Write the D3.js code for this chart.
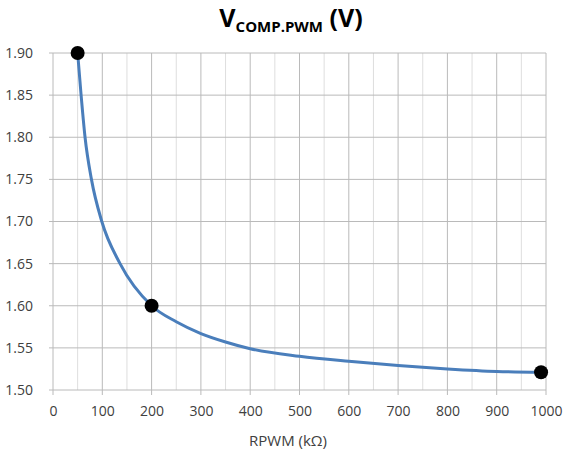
<!DOCTYPE html>
<html>
<head>
<meta charset="utf-8">
<script src="https://cdn.jsdelivr.net/npm/d3@7"></script>
<style>
  body { margin: 0; background: #fff; }
  text { font-family: "Open Sans", "DejaVu Sans", sans-serif; fill: #404040; }
</style>
</head>
<body>
<div id="chart"></div>
<script>
// curve values
var rpwm  = [50, 57, 65, 78, 99, 136, 200, 250, 300, 350, 400, 500, 600, 700, 800, 900, 990];
var vcomp = [1.90, 1.85, 1.80, 1.75, 1.70, 1.65, 1.60, 1.581, 1.567, 1.557, 1.549, 1.540, 1.534, 1.529, 1.525, 1.522, 1.521];

// marked points
var markX = [50, 200, 990];
var markY = [1.90, 1.60, 1.521];

var xTicks = [0, 100, 200, 300, 400, 500, 600, 700, 800, 900, 1000];
var xMinor = [50, 150, 250, 350, 450, 550, 650, 750, 850, 950];
var yTicks = [1.50, 1.55, 1.60, 1.65, 1.70, 1.75, 1.80, 1.85, 1.90];

var width = 563, height = 454;
var margin = { top: 53, right: 17, bottom: 64, left: 53 };
var w = width - margin.left - margin.right;
var h = height - margin.top - margin.bottom;

var svg = d3.select("#chart").append("svg")
  .attr("width", width)
  .attr("height", height);

var g = svg.append("g")
  .attr("transform", "translate(" + margin.left + "," + margin.top + ")");

var x = d3.scaleLinear().domain([0, 1000]).range([0, w]);
var y = d3.scaleLinear().domain([1.50, 1.90]).range([h, 0]);

// minor vertical grid
g.selectAll(".minor").data(xMinor).enter().append("line")
  .attr("class", "minor")
  .attr("x1", function(d){ return x(d); })
  .attr("x2", function(d){ return x(d); })
  .attr("y1", 0).attr("y2", h)
  .attr("stroke", "#dedede").attr("stroke-width", 1);

// major vertical grid
g.selectAll(".vmajor").data(xTicks).enter().append("line")
  .attr("class", "vmajor")
  .attr("x1", function(d){ return x(d); })
  .attr("x2", function(d){ return x(d); })
  .attr("y1", 0).attr("y2", h + 5)
  .attr("stroke", "#bababa").attr("stroke-width", 1);

// horizontal grid
g.selectAll(".hmajor").data(yTicks).enter().append("line")
  .attr("class", "hmajor")
  .attr("x1", -4).attr("x2", w)
  .attr("y1", function(d){ return y(d); })
  .attr("y2", function(d){ return y(d); })
  .attr("stroke", "#bababa").attr("stroke-width", 1);

// axes labels
var xAxis = d3.axisBottom(x).tickValues(xTicks).tickSize(0).tickPadding(16)
  .tickFormat(d3.format("d"));
var yAxis = d3.axisLeft(y).tickValues(yTicks).tickSize(0).tickPadding(20)
  .tickFormat(d3.format(".2f"));

g.append("g").attr("class", "x-axis")
  .attr("transform", "translate(0," + h + ")")
  .call(xAxis);
g.append("g").attr("class", "y-axis").call(yAxis);

g.selectAll(".x-axis path, .y-axis path").remove();
g.selectAll(".x-axis text, .y-axis text")
  .style("font-size", "14px").attr("fill", "#333");

// curve
var line = d3.line()
  .x(function(d, i){ return x(rpwm[i]); })
  .y(function(d){ return y(d); })
  .curve(d3.curveMonotoneX);

g.append("path")
  .datum(vcomp)
  .attr("d", line)
  .attr("fill", "none")
  .attr("stroke", "#4a7ebb")
  .attr("stroke-width", 3);

// dots
g.selectAll(".dot").data(markY).enter().append("circle")
  .attr("class", "dot")
  .attr("cx", function(d, i){ return x(markX[i]); })
  .attr("cy", function(d){ return y(d); })
  .attr("r", 7)
  .attr("fill", "#000");

// title
var title = svg.append("text")
  .attr("x", 291).attr("y", 27)
  .attr("text-anchor", "middle")
  .style("font-weight", "bold")
  .attr("fill", "#000");
title.append("tspan").style("font-size", "25px").style("fill", "#000").text("V");
title.append("tspan").attr("dy", 5).style("font-size", "15px").style("fill", "#000").text("COMP.PWM");
title.append("tspan").attr("dy", -5).style("font-size", "25px").style("fill", "#000").text(" (V)");

// x axis title
svg.append("text")
  .attr("x", 288).attr("y", 446)
  .attr("text-anchor", "middle")
  .style("font-size", "15px")
  .attr("fill", "#333")
  .text("RPWM (k\u03A9)");
</script>
</body>
</html>
